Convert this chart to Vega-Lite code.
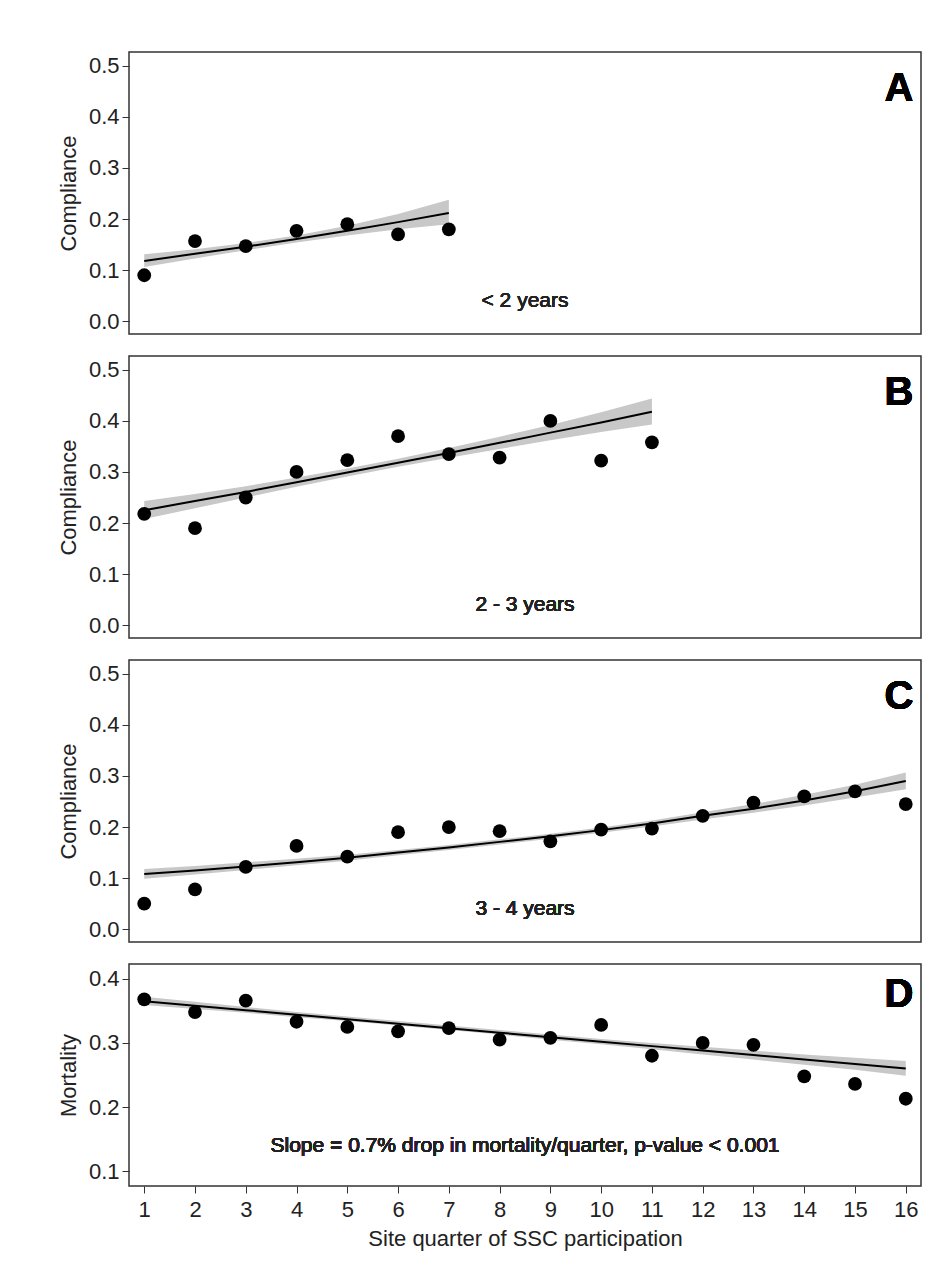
{
  "$schema": "https://vega.github.io/schema/vega-lite/v6.json",
  "background": "white",
  "padding": {"left": 56, "top": 51, "right": 20, "bottom": 10},
  "spacing": 20,
  "config": {
    "font": "Liberation Sans",
    "view": {"stroke": "#333", "strokeWidth": 1.5},
    "text": {"fontWeight": "normal"},
    "axis": {"grid": false, "labelFontSize": 22, "titleFontSize": 22, "titleFontWeight": "normal", "labelColor": "#222", "titleColor": "#222", "domain": false, "tickColor": "#333", "tickSize": 7, "labelPadding": 3, "titlePadding": 8, "labelFont": "Liberation Sans", "titleFont": "Liberation Sans"}
  },
  "vconcat": [
    {
      "width": 792, "height": 282,
      "data": {"values": [
        {"x": 1, "y": 0.09, "fit": 0.118, "lo": 0.106, "hi": 0.131},
        {"x": 2, "y": 0.157, "fit": 0.132, "lo": 0.123, "hi": 0.141},
        {"x": 3, "y": 0.147, "fit": 0.146, "lo": 0.139, "hi": 0.153},
        {"x": 4, "y": 0.177, "fit": 0.161, "lo": 0.154, "hi": 0.168},
        {"x": 5, "y": 0.19, "fit": 0.177, "lo": 0.168, "hi": 0.187},
        {"x": 6, "y": 0.17, "fit": 0.194, "lo": 0.180, "hi": 0.210},
        {"x": 7, "y": 0.18, "fit": 0.212, "lo": 0.190, "hi": 0.238}
      ]},
      "encoding": {
        "x": {"type": "quantitative", "scale": {"domain": [0.7, 16.3], "nice": false, "zero": false}, "axis": null}
      },
      "layer": [
        {"mark": {"type": "area", "color": "#c8c8c8"}, "encoding": {"x": {"field": "x"}, "y": {"field": "lo", "type": "quantitative", "scale": {"domain": [-0.025, 0.527], "nice": false}, "axis": {"values": [0, 0.1, 0.2, 0.3, 0.4, 0.5], "format": ".1f", "title": "Compliance"}}, "y2": {"field": "hi"}}},
        {"mark": {"type": "line", "color": "black", "strokeWidth": 2}, "encoding": {"x": {"field": "x"}, "y": {"field": "fit", "type": "quantitative"}}},
        {"mark": {"type": "point", "filled": true, "color": "black", "size": 190, "opacity": 1}, "encoding": {"x": {"field": "x"}, "y": {"field": "y", "type": "quantitative"}}},
        {"mark": {"type": "text", "text": "A", "fontSize": 40, "fontWeight": "bold", "align": "right", "fill": "black"}, "encoding": {"x": {"datum": 16.15}, "y": {"datum": 0.455}}},
        {"mark": {"type": "text", "text": "< 2 years", "fontSize": 21, "fontWeight": "normal", "fill": "#222"}, "encoding": {"x": {"datum": 8.5}, "y": {"datum": 0.04}}}
      ]
    },
    {
      "width": 792, "height": 282,
      "data": {"values": [
        {"x": 1, "y": 0.218, "fit": 0.225, "lo": 0.208, "hi": 0.243},
        {"x": 2, "y": 0.19, "fit": 0.243, "lo": 0.229, "hi": 0.257},
        {"x": 3, "y": 0.25, "fit": 0.261, "lo": 0.250, "hi": 0.272},
        {"x": 4, "y": 0.30, "fit": 0.280, "lo": 0.271, "hi": 0.289},
        {"x": 5, "y": 0.323, "fit": 0.299, "lo": 0.291, "hi": 0.307},
        {"x": 6, "y": 0.37, "fit": 0.318, "lo": 0.310, "hi": 0.326},
        {"x": 7, "y": 0.335, "fit": 0.337, "lo": 0.328, "hi": 0.347},
        {"x": 8, "y": 0.328, "fit": 0.357, "lo": 0.345, "hi": 0.369},
        {"x": 9, "y": 0.40, "fit": 0.377, "lo": 0.362, "hi": 0.392},
        {"x": 10, "y": 0.322, "fit": 0.397, "lo": 0.378, "hi": 0.417},
        {"x": 11, "y": 0.358, "fit": 0.418, "lo": 0.393, "hi": 0.444}
      ]},
      "encoding": {
        "x": {"type": "quantitative", "scale": {"domain": [0.7, 16.3], "nice": false, "zero": false}, "axis": null}
      },
      "layer": [
        {"mark": {"type": "area", "color": "#c8c8c8"}, "encoding": {"x": {"field": "x"}, "y": {"field": "lo", "type": "quantitative", "scale": {"domain": [-0.025, 0.527], "nice": false}, "axis": {"values": [0, 0.1, 0.2, 0.3, 0.4, 0.5], "format": ".1f", "title": "Compliance"}}, "y2": {"field": "hi"}}},
        {"mark": {"type": "line", "color": "black", "strokeWidth": 2}, "encoding": {"x": {"field": "x"}, "y": {"field": "fit", "type": "quantitative"}}},
        {"mark": {"type": "point", "filled": true, "color": "black", "size": 190, "opacity": 1}, "encoding": {"x": {"field": "x"}, "y": {"field": "y", "type": "quantitative"}}},
        {"mark": {"type": "text", "text": "B", "fontSize": 40, "fontWeight": "bold", "align": "right", "fill": "black"}, "encoding": {"x": {"datum": 16.15}, "y": {"datum": 0.455}}},
        {"mark": {"type": "text", "text": "2 - 3 years", "fontSize": 21, "fontWeight": "normal", "fill": "#222"}, "encoding": {"x": {"datum": 8.5}, "y": {"datum": 0.04}}}
      ]
    },
    {
      "width": 792, "height": 282,
      "data": {"values": [
        {"x": 1, "y": 0.05, "fit": 0.108, "lo": 0.099, "hi": 0.118},
        {"x": 2, "y": 0.078, "fit": 0.115, "lo": 0.107, "hi": 0.124},
        {"x": 3, "y": 0.122, "fit": 0.123, "lo": 0.116, "hi": 0.131},
        {"x": 4, "y": 0.163, "fit": 0.131, "lo": 0.125, "hi": 0.138},
        {"x": 5, "y": 0.142, "fit": 0.140, "lo": 0.134, "hi": 0.146},
        {"x": 6, "y": 0.19, "fit": 0.150, "lo": 0.145, "hi": 0.155},
        {"x": 7, "y": 0.20, "fit": 0.160, "lo": 0.155, "hi": 0.165},
        {"x": 8, "y": 0.192, "fit": 0.171, "lo": 0.166, "hi": 0.176},
        {"x": 9, "y": 0.172, "fit": 0.182, "lo": 0.177, "hi": 0.187},
        {"x": 10, "y": 0.195, "fit": 0.194, "lo": 0.189, "hi": 0.199},
        {"x": 11, "y": 0.197, "fit": 0.207, "lo": 0.201, "hi": 0.213},
        {"x": 12, "y": 0.222, "fit": 0.222, "lo": 0.215, "hi": 0.229},
        {"x": 13, "y": 0.248, "fit": 0.236, "lo": 0.228, "hi": 0.245},
        {"x": 14, "y": 0.26, "fit": 0.252, "lo": 0.242, "hi": 0.263},
        {"x": 15, "y": 0.27, "fit": 0.270, "lo": 0.258, "hi": 0.283},
        {"x": 16, "y": 0.245, "fit": 0.290, "lo": 0.274, "hi": 0.307}
      ]},
      "encoding": {
        "x": {"type": "quantitative", "scale": {"domain": [0.7, 16.3], "nice": false, "zero": false}, "axis": null}
      },
      "layer": [
        {"mark": {"type": "area", "color": "#c8c8c8"}, "encoding": {"x": {"field": "x"}, "y": {"field": "lo", "type": "quantitative", "scale": {"domain": [-0.025, 0.527], "nice": false}, "axis": {"values": [0, 0.1, 0.2, 0.3, 0.4, 0.5], "format": ".1f", "title": "Compliance"}}, "y2": {"field": "hi"}}},
        {"mark": {"type": "line", "color": "black", "strokeWidth": 2}, "encoding": {"x": {"field": "x"}, "y": {"field": "fit", "type": "quantitative"}}},
        {"mark": {"type": "point", "filled": true, "color": "black", "size": 190, "opacity": 1}, "encoding": {"x": {"field": "x"}, "y": {"field": "y", "type": "quantitative"}}},
        {"mark": {"type": "text", "text": "C", "fontSize": 40, "fontWeight": "bold", "align": "right", "fill": "black"}, "encoding": {"x": {"datum": 16.15}, "y": {"datum": 0.455}}},
        {"mark": {"type": "text", "text": "3 - 4 years", "fontSize": 21, "fontWeight": "normal", "fill": "#222"}, "encoding": {"x": {"datum": 8.5}, "y": {"datum": 0.04}}}
      ]
    },
    {
      "width": 792, "height": 222,
      "data": {"values": [
        {"x": 1, "y": 0.368, "fit": 0.365, "lo": 0.359, "hi": 0.372},
        {"x": 2, "y": 0.348, "fit": 0.358, "lo": 0.353, "hi": 0.364},
        {"x": 3, "y": 0.366, "fit": 0.351, "lo": 0.347, "hi": 0.356},
        {"x": 4, "y": 0.333, "fit": 0.344, "lo": 0.340, "hi": 0.348},
        {"x": 5, "y": 0.325, "fit": 0.337, "lo": 0.334, "hi": 0.341},
        {"x": 6, "y": 0.318, "fit": 0.330, "lo": 0.327, "hi": 0.334},
        {"x": 7, "y": 0.323, "fit": 0.323, "lo": 0.320, "hi": 0.327},
        {"x": 8, "y": 0.305, "fit": 0.316, "lo": 0.313, "hi": 0.320},
        {"x": 9, "y": 0.308, "fit": 0.309, "lo": 0.305, "hi": 0.313},
        {"x": 10, "y": 0.328, "fit": 0.302, "lo": 0.298, "hi": 0.306},
        {"x": 11, "y": 0.28, "fit": 0.295, "lo": 0.290, "hi": 0.300},
        {"x": 12, "y": 0.30, "fit": 0.288, "lo": 0.282, "hi": 0.294},
        {"x": 13, "y": 0.297, "fit": 0.281, "lo": 0.274, "hi": 0.288},
        {"x": 14, "y": 0.248, "fit": 0.274, "lo": 0.266, "hi": 0.282},
        {"x": 15, "y": 0.236, "fit": 0.267, "lo": 0.258, "hi": 0.277},
        {"x": 16, "y": 0.213, "fit": 0.260, "lo": 0.249, "hi": 0.272}
      ]},
      "encoding": {
        "x": {"type": "quantitative", "scale": {"domain": [0.7, 16.3], "nice": false, "zero": false}, "axis": {"values": [1,2,3,4,5,6,7,8,9,10,11,12,13,14,15,16], "title": "Site quarter of SSC participation", "labelPadding": 6, "titlePadding": 8}}
      },
      "layer": [
        {"mark": {"type": "area", "color": "#c8c8c8"}, "encoding": {"x": {"field": "x"}, "y": {"field": "lo", "type": "quantitative", "scale": {"domain": [0.077, 0.423], "nice": false}, "axis": {"values": [0.1, 0.2, 0.3, 0.4], "format": ".1f", "title": "Mortality"}}, "y2": {"field": "hi"}}},
        {"mark": {"type": "line", "color": "black", "strokeWidth": 2}, "encoding": {"x": {"field": "x"}, "y": {"field": "fit", "type": "quantitative"}}},
        {"mark": {"type": "point", "filled": true, "color": "black", "size": 190, "opacity": 1}, "encoding": {"x": {"field": "x"}, "y": {"field": "y", "type": "quantitative"}}},
        {"mark": {"type": "text", "text": "D", "fontSize": 40, "fontWeight": "bold", "align": "right", "fill": "black"}, "encoding": {"x": {"datum": 16.15}, "y": {"datum": 0.375}}},
        {"mark": {"type": "text", "text": "Slope = 0.7% drop in mortality/quarter,   p-value < 0.001", "fontSize": 21, "fontWeight": "normal", "fill": "#222"}, "encoding": {"x": {"datum": 8.5}, "y": {"datum": 0.14}}}
      ]
    }
  ]
}
